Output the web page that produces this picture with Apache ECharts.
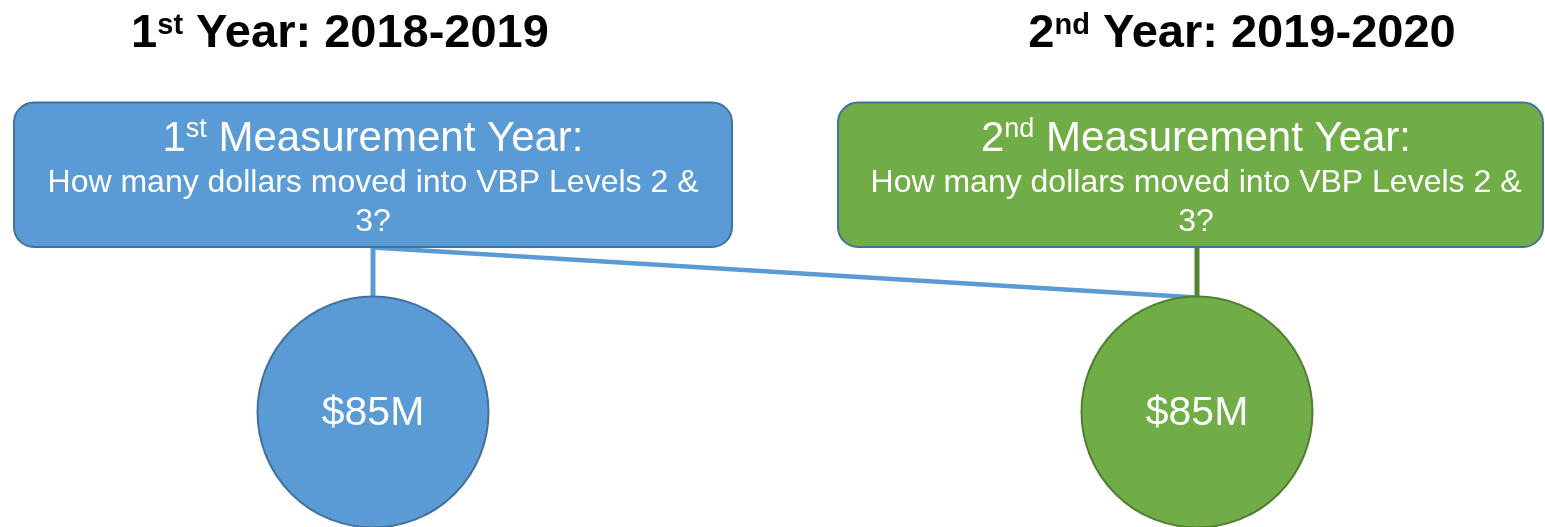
<!DOCTYPE html>
<html>
<head>
<meta charset="utf-8">
<script src="https://cdn.jsdelivr.net/npm/echarts@6/dist/echarts.min.js"></script>
<style>
  html, body { margin: 0; padding: 0; background: #ffffff; }
  #chart { width: 1545px; height: 527px; }
</style>
</head>
<body>
<div id="chart"></div>
<script>
// ---- data ----
const ordinals = ['1', '2'];
const ordinalSuffixes = ['st', 'nd'];
const periods = ['2018-2019', '2019-2020'];
const boxHeadingRest = ' Measurement Year:';
const questionLines = ['How many dollars moved into VBP Levels 2 &', '3?'];
const dollarsMovedM = [85, 85];
const fillColors = ['#5B9BD5', '#70AD47'];
const borderColors = ['#41719C', '#507E32'];

// ---- helpers ----
const FONT = '"Liberation Sans", Arial, Helvetica, sans-serif';
const mctx = document.createElement('canvas').getContext('2d');
function measure(text, size, weight) {
  mctx.font = weight + ' ' + size + 'px ' + FONT;
  return mctx.measureText(text).width;
}
// segments: [{t, size, raise}] ; returns graphic text elements centred at cx on the given baseline
function richLine(segments, cx, baseline, color, weight) {
  const widths = segments.map(s => measure(s.t, s.size, weight));
  const total = widths.reduce((a, b) => a + b, 0);
  let x = cx - total / 2;
  const els = [];
  segments.forEach((s, i) => {
    els.push({
      type: 'text',
      x: x,
      y: baseline - (s.raise || 0) - 0.3465 * s.size,
      z: 20,
      style: {
        text: s.t,
        font: weight + ' ' + s.size + 'px ' + FONT,
        fill: color,
        align: 'left',
        verticalAlign: 'middle'
      }
    });
    x += widths[i];
  });
  return els;
}

const graphics = [];

// year titles
const titleCenters = [340, 1242];
ordinals.forEach((o, i) => {
  graphics.push(...richLine([
    { t: o, size: 47 },
    { t: ordinalSuffixes[i], size: 29, raise: 14 },
    { t: ' Year: ' + periods[i], size: 47 }
  ], titleCenters[i], 50.5, '#000000', 'bold'));
});

// connectors (drawn under boxes)
graphics.push({ type: 'line', z: 5, shape: { x1: 1197, y1: 245, x2: 1197, y2: 298 }, style: { stroke: '#548235', lineWidth: 5 } });
graphics.push({ type: 'line', z: 5, shape: { x1: 373, y1: 245, x2: 373, y2: 298 }, style: { stroke: '#5B9BD5', lineWidth: 5 } });
graphics.push({ type: 'line', z: 6, shape: { x1: 373, y1: 247.5, x2: 1197, y2: 297.5 }, style: { stroke: '#5B9BD5', lineWidth: 4.5 } });

// boxes
const boxes = [
  { x: 14, y: 102.5, w: 718, h: 144.5, cx: 373 },
  { x: 838, y: 102.5, w: 705, h: 144.5, cx: 1196 }
];
boxes.forEach((b, i) => {
  graphics.push({
    type: 'rect', z: 10,
    shape: { x: b.x, y: b.y, width: b.w, height: b.h, r: 20 },
    style: { fill: fillColors[i], stroke: '#41719C', lineWidth: 2 }
  });
  graphics.push(...richLine([
    { t: ordinals[i], size: 42 },
    { t: ordinalSuffixes[i], size: 27, raise: 15 },
    { t: boxHeadingRest, size: 42 }
  ], b.cx, 154, '#ffffff', 'normal'));
  graphics.push(...richLine([{ t: questionLines[0], size: 32 }], b.cx, 194, '#ffffff', 'normal'));
  graphics.push(...richLine([{ t: questionLines[1], size: 32 }], b.cx, 233.5, '#ffffff', 'normal'));
});

const chart = echarts.init(document.getElementById('chart'), null, { renderer: 'canvas' });
chart.setOption({
  backgroundColor: '#ffffff',
  animation: false,
  grid: { left: 373, width: 824, top: 297, height: 231 },
  xAxis: { type: 'category', data: periods, show: false, boundaryGap: false },
  yAxis: { type: 'category', data: ['dollars'], show: false },
  series: [{
    type: 'scatter',
    symbol: 'circle',
    symbolSize: 231,
    z: 8,
    data: dollarsMovedM.map((v, i) => ({
      value: [periods[i], 'dollars', v],
      itemStyle: { color: fillColors[i], borderColor: borderColors[i], borderWidth: 2, opacity: 1 }
    })),
    label: {
      show: true,
      position: 'inside',
      formatter: p => '$' + p.value[2] + 'M',
      color: '#ffffff',
      fontSize: 41,
      fontFamily: FONT,
      offset: [0, 2]
    },
    emphasis: { disabled: true }
  }],
  graphic: graphics
});
</script>
</body>
</html>
